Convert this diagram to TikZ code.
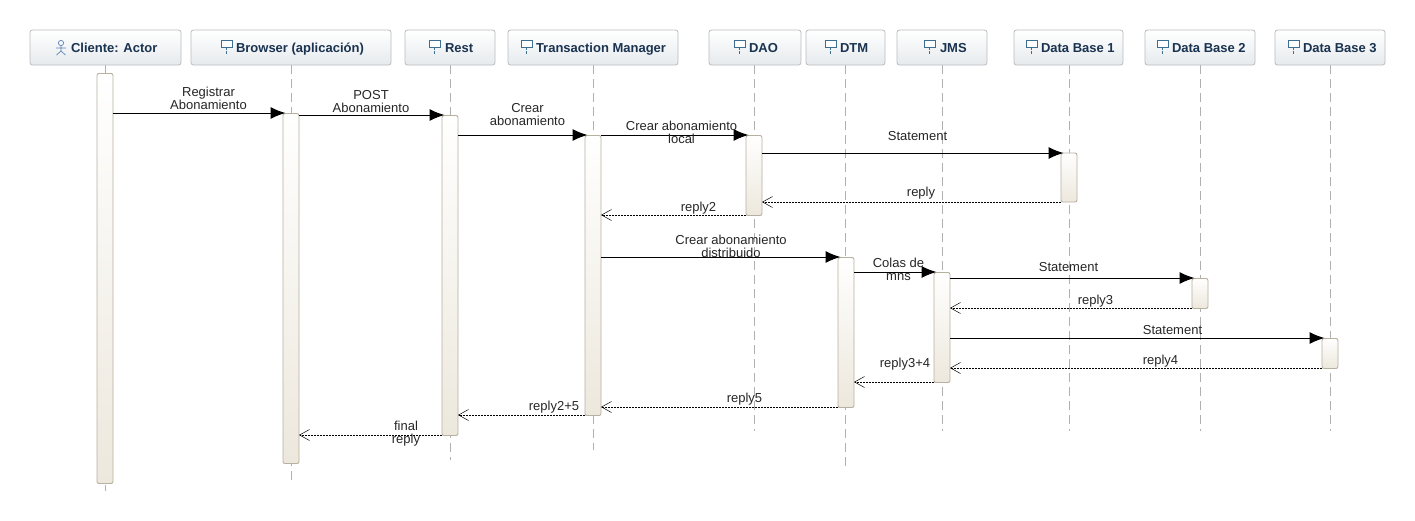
\documentclass[tikz,border=0pt]{standalone}
\usepackage{fontspec}
\setmainfont{Liberation Sans}
\usetikzlibrary{arrows.meta}
\definecolor{headtxt}{HTML}{1A3350}
\definecolor{headedge}{HTML}{B8BCC0}
\definecolor{headbot}{HTML}{E6EAED}
\definecolor{actedge}{HTML}{B8B09F}
\definecolor{actbot}{HTML}{EDE8DD}
\definecolor{lifecol}{HTML}{B0B0B0}
\definecolor{iconcol}{HTML}{3F6F90}
\definecolor{actorcol}{HTML}{5F84B5}
\tikzset{
  x=1pt,y=-1pt,
  every node/.style={font=\fontsize{13}{13}\selectfont,inner sep=0pt,outer sep=0pt,text=black!85},
  headbox/.style={draw=headedge,line width=0.8pt,rounded corners=2.5pt,top color=white,bottom color=headbot,minimum height=35pt,anchor=north west},
  headlabel/.style={font=\fontsize{13}{13}\bfseries\selectfont,text=headtxt,anchor=base west},
  bar/.style={draw=actedge,line width=0.9pt,rounded corners=2pt,top color=white,bottom color=actbot,minimum width=16pt,anchor=north},
  lifeline/.style={draw=lifecol,line width=0.8pt,dash pattern=on 9pt off 5pt},
  callmsg/.style={draw=black,line width=1pt,shorten >=-2.5pt,-{Latex[length=15pt,width=12pt]}},
  replymsg/.style={draw=black,line width=0.7pt,dash pattern=on 2pt off 1pt,-{Straight Barb[length=10pt,width=11pt,line width=0.5pt]}},
  msglabel/.style={align=center},
  lifeicon/.style={draw=iconcol,line width=0.9pt},
}
\newcommand{\headbox}[5]{% name, left, width, label, text left
  \node[headbox,minimum width=#3pt] (#1) at (#2,30) {};
  \node[headlabel] (#1t) at (#5,52) {#4};
}
\newcommand{\lifeicon}[1]{% left x of icon
  \draw[lifeicon,fill=white] (#1,40.5) rectangle ++(11,6.5);
  \draw[lifeicon,line width=0.7pt] (#1+5.5,47) -- ++(0,2.5) (#1+5.5,51) -- ++(0,2.5);
}
\begin{document}
\begin{tikzpicture}
\useasboundingbox (0,0) rectangle (1415,520);
\fill[white] (0,0) rectangle (1415,520);
% lifelines
\foreach \nm/\lx/\ly in {ll0/105/491,ll1/291/481,ll2/450/460,ll3/593/450,ll4/754/431,ll5/845/470,ll6/942/431,ll7/1069/431,ll8/1200/431,ll9/1330/431}{
  \draw[lifeline] (\lx,65) -- (\lx,\ly);
}
% heads
\headbox{h0}{30}{151}{Cliente: Actor}{71}
\headbox{h1}{191}{200}{Browser (aplicación)}{236}
\headbox{h2}{405}{90}{Rest}{445}
\headbox{h3}{508}{170}{Transaction Manager}{536}
\headbox{h4}{709}{92}{DAO}{749}
\headbox{h5}{806}{79}{DTM}{840}
\headbox{h6}{897}{90}{JMS}{940}
\headbox{h7}{1014}{109}{Data Base 1}{1041}
\headbox{h8}{1145}{110}{Data Base 2}{1172}
\headbox{h9}{1275}{110}{Data Base 3}{1303}
% icons
\draw[draw=actorcol,line width=0.7pt] (61,43) circle (2.6);
\draw[draw=actorcol,line width=0.7pt] (61,45.6) -- (61,51) (56,48) -- (66,48) (56.5,55) -- (61,51) -- (65.5,55);
\lifeicon{221}\lifeicon{429}\lifeicon{521}\lifeicon{734}\lifeicon{825}\lifeicon{924}\lifeicon{1026}\lifeicon{1157}\lifeicon{1288}
% activation bars
\node[bar,minimum height=410pt] (a0) at (105,73.5) {};
\node[bar,minimum height=350pt] (a1) at (291,113.5) {};
\node[bar,minimum height=320pt] (a2) at (450,115.5) {};
\node[bar,minimum height=280pt] (a3) at (593,135.5) {};
\node[bar,minimum height=80pt]  (a4) at (754,135.5) {};
\node[bar,minimum height=49pt]  (a7) at (1069,153) {};
\node[bar,minimum height=150pt] (a5) at (846,257.5) {};
\node[bar,minimum height=110pt] (a6) at (942,272.5) {};
\node[bar,minimum height=30pt]  (a8) at (1200,278.5) {};
\node[bar,minimum height=30pt]  (a9) at (1330,338.5) {};
% calls
\draw[callmsg] (a0.east |- 0,113) -- (a1.west |- 0,113);
\draw[callmsg] (a1.east |- 0,115) -- (a2.west |- 0,115);
\draw[callmsg] (a2.east |- 0,135) -- (a3.west |- 0,135);
\draw[callmsg] (a3.east |- 0,135) -- (a4.west |- 0,135);
\draw[callmsg] (a4.east |- 0,153) -- (a7.west |- 0,153);
\draw[callmsg] (a3.east |- 0,257) -- (a5.west |- 0,257);
\draw[callmsg] (a5.east |- 0,272) -- (a6.west |- 0,272);
\draw[callmsg] (a6.east |- 0,278) -- (a8.west |- 0,278);
\draw[callmsg] (a6.east |- 0,338) -- (a9.west |- 0,338);
% replies
\draw[replymsg] (a7.west |- 0,202) -- (a4.east |- 0,202);
\draw[replymsg] (a4.west |- 0,215) -- (a3.east |- 0,215);
\draw[replymsg] (a8.west |- 0,308) -- (a6.east |- 0,308);
\draw[replymsg] (a9.west |- 0,368) -- (a6.east |- 0,368);
\draw[replymsg] (a6.west |- 0,382) -- (a5.east |- 0,382);
\draw[replymsg] (a5.west |- 0,407) -- (a3.east |- 0,407);
\draw[replymsg] (a3.west |- 0,415) -- (a2.east |- 0,415);
\draw[replymsg] (a2.west |- 0,435) -- (a1.east |- 0,435);
% labels
\node[msglabel] (m1) at (208.5,98.5) {Registrar\\Abonamiento};
\node[msglabel] (m2) at (371,101.5) {POST\\Abonamiento};
\node[msglabel] (m3) at (527.5,114.5) {Crear\\abonamiento};
\node[msglabel] (m4) at (681.5,132.5) {Crear abonamiento\\local};
\node[msglabel] (m5) at (917.5,136) {Statement};
\node[msglabel] (m6) at (921,193) {reply};
\node[msglabel] (m7) at (698.5,208) {reply2};
\node[msglabel] (m8) at (731,246) {Crear abonamiento\\distribuido};
\node[msglabel] (m9) at (898.5,269.5) {Colas de\\mns};
\node[msglabel] (m10) at (1068.5,267) {Statement};
\node[msglabel] (m11) at (1095.5,301) {reply3};
\node[msglabel] (m12) at (1172.5,330) {Statement};
\node[msglabel] (m13) at (1160.5,361) {reply4};
\node[msglabel] (m14) at (905,364.5) {reply3+4};
\node[msglabel] (m15) at (744.5,399.5) {reply5};
\node[msglabel] (m16) at (554,407.5) {reply2+5};
\node[msglabel] (m17) at (406,433.5) {final\\reply};
\end{tikzpicture}
\end{document}
